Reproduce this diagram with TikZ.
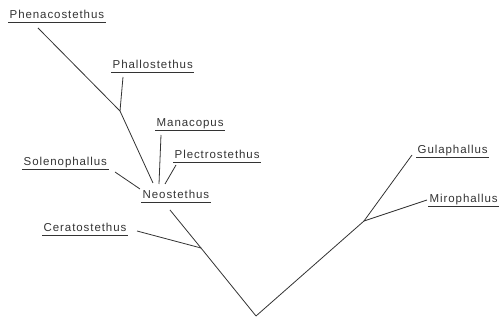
\documentclass[tikz,border=0pt]{standalone}
\usepackage{fontspec}
\setmainfont{Liberation Sans}
\newfontfamily\taxfont[LetterSpace=8]{Liberation Sans}
\begin{document}
\begin{tikzpicture}[x=1pt,y=-1pt,
  taxon/.style={anchor=south west, inner xsep=1.5pt, inner ysep=0pt, text depth=3.5pt,
    font=\taxfont\fontsize{11.5}{12}\selectfont, text=black!80,
    append after command={(\tikzlastnode.south west) edge[ulin] (\tikzlastnode.south east)}},
  ulin/.style={draw=black!80, line width=0.8pt},
  branch/.style={draw=black!80, line width=0.8pt}]
\useasboundingbox (0,0) rectangle (504,320);
% taxa
\node[taxon] (phen) at (8,22) {Phenacostethus};
\node[taxon] (phal) at (111,72) {Phallostethus};
\node[taxon] (mana) at (155,130) {Manacopus};
\node[taxon] (plec) at (173,162) {Plectrostethus};
\node[taxon] (sole) at (22,169) {Solenophallus};
\node[taxon] (neo) at (141,202) {Neostethus};
\node[taxon] (cera) at (42,235) {Ceratostethus};
\node[taxon] (gula) at (416,157) {Gulaphallus};
\node[taxon] (miro) at (428,206) {Mirophallus};
% junctions
\coordinate (j1) at (120,111);
\coordinate (j2) at (201,248);
\coordinate (root) at (256,316);
\coordinate (j3) at (364,221);
% line ends
\coordinate (phenE) at (38,28);
\coordinate (phalE) at (123,77);
\coordinate (manaE) at (161,135);
\coordinate (plecE) at (176,165);
\coordinate (soleE) at (115,172);
\coordinate (neoA) at (153,183);
\coordinate (neoB) at (159,184);
\coordinate (neoC) at (165,184);
\coordinate (neoD) at (140,189);
\coordinate (neoE) at (170,210);
\coordinate (ceraE) at (137,231);
\coordinate (gulaE) at (412,155);
\coordinate (miroE) at (427,200);
% branches
\draw[branch] (phenE) -- (j1);
\draw[branch] (phalE) -- (j1);
\draw[branch] (j1) -- (neoA);
\draw[branch] (manaE) -- (neoB);
\draw[branch] (plecE) -- (neoC);
\draw[branch] (soleE) -- (neoD);
\draw[branch] (neoE) -- (j2);
\draw[branch] (ceraE) -- (j2);
\draw[branch] (j2) -- (root);
\draw[branch] (root) -- (j3);
\draw[branch] (j3) -- (gulaE);
\draw[branch] (j3) -- (miroE);
\end{tikzpicture}
\end{document}
